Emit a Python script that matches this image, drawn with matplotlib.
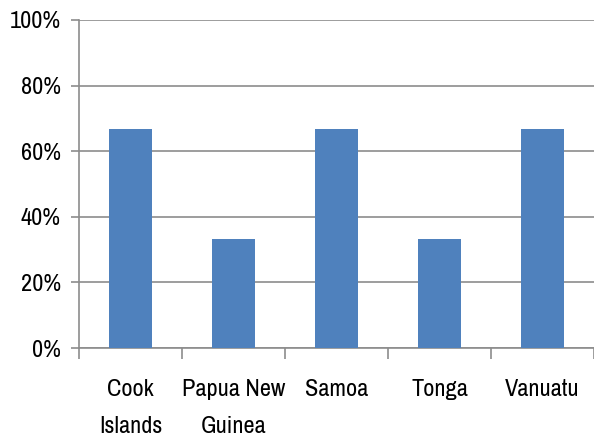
import matplotlib.pyplot as plt
from matplotlib import font_manager
from matplotlib.ticker import FuncFormatter, FixedLocator

# === Data ===
countries = ["Cook\nIslands", "Papua New\nGuinea", "Samoa", "Tonga", "Vanuatu"]
shares = [0.667, 0.333, 0.667, 0.333, 0.667]

# prefer a narrow face, otherwise Noto Sans CJK (its latin is fairly narrow)
names = sorted({f.name for f in font_manager.fontManager.ttflist})
narrow = [n for n in names if "Narrow" in n or "Condensed" in n or n == "Carlito"]
fam = narrow[0] if narrow else "Noto Sans CJK SC"
plt.rcParams['font.family'] = [fam, 'DejaVu Sans']
FS = 17.5

fig = plt.figure(figsize=(5.94, 4.36), dpi=100)
ax = fig.add_axes([79 / 594, 1 - 348 / 436, 1 - 79 / 594, (348 - 20) / 436])

x = range(len(countries))
ax.bar(x, shares, width=0.41, color="#4F81BD", zorder=3)

ax.set_xlim(-0.5, len(countries) - 0.5)
ax.set_ylim(0, 1)
ax.set_yticks([0, 0.2, 0.4, 0.6, 0.8, 1.0])
ax.yaxis.set_major_formatter(FuncFormatter(lambda v, _: f"{v:.0%}"))
ax.grid(axis="y", color="#8C8C8C", linewidth=1.2, zorder=0)

# category labels at centres, tick marks between categories
ax.set_xticks(list(x))
ax.set_xticklabels(countries, fontsize=FS, linespacing=1.95)
ax.tick_params(axis="x", length=0, pad=22)
ax.xaxis.set_minor_locator(FixedLocator([i - 0.5 for i in range(len(countries) + 1)]))
ax.tick_params(axis="x", which="minor", length=8, width=1.2, color="#8C8C8C")
ax.tick_params(axis="y", length=6, width=1.2, color="#8C8C8C", labelsize=FS, pad=7)

for s in ["top", "right"]:
    ax.spines[s].set_visible(False)
for s in ["left", "bottom"]:
    ax.spines[s].set_color("#8C8C8C")
    ax.spines[s].set_linewidth(1.2)

fig.savefig("out.png", dpi=100)
